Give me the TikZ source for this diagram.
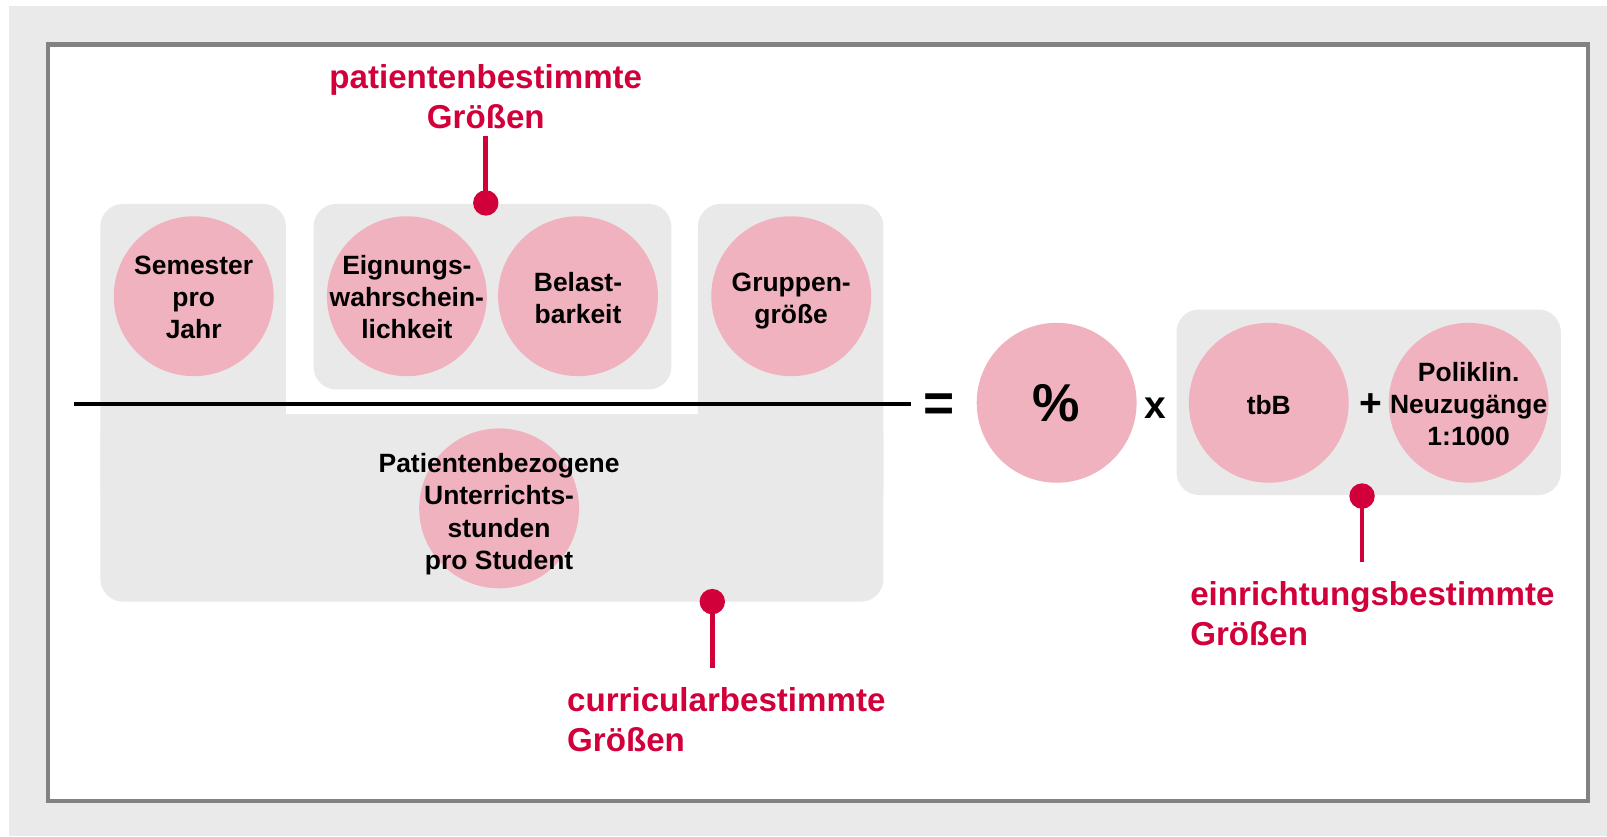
\documentclass[tikz,border=0pt]{standalone}
\usepackage{fontspec}
\setmainfont{Liberation Sans}
\definecolor{pagegray}{HTML}{EAEAEA}
\definecolor{framegray}{HTML}{828282}
\definecolor{panelgray}{HTML}{E9E9E9}
\definecolor{discpink}{HTML}{F0B2BE}
\definecolor{signalred}{HTML}{D2003A}
\begin{document}
\begin{tikzpicture}[x=0.5pt,y=-0.5pt,
  panel/.style={fill=panelgray, rounded corners=11pt},
  disc/.style={circle, fill=discpink, draw=none, minimum size=78pt, inner sep=0pt},
  disctext/.style={font=\bfseries\fontsize{12.9}{15.75}\selectfont, align=center, inner sep=0pt},
  redlabel/.style={font=\bfseries\fontsize{16.15}{19.4}\selectfont, text=signalred, align=left, inner sep=0pt},
  pindot/.style={circle, fill=signalred, draw=none, minimum size=12.4pt, inner sep=0pt},
  stem/.style={draw=signalred, line width=2.3pt},
  operator/.style={font=\bfseries\fontsize{#1}{#1}\selectfont, inner sep=0pt},
  fraction/.style={line width=2.15pt, black}
]
\useasboundingbox (0,0) rectangle (1568,816);

% page background and frame
\fill[pagegray] (9,6) rectangle (1568,816);
\draw[framegray, line width=2.2pt, fill=white] (47,43.5) rectangle (1549.5,781.5);

% grey panels behind the factors
\fill[panel] (98,199) rectangle (279,500);
\fill[panel] (681,199) rectangle (862,500);
\fill[panel] (98,404) rectangle (862,587);
\fill[panel] (306,199) rectangle (655,380);
\fill[panel] (1148,302) rectangle (1523,483);

% numerator
\node[disc] (sem) at (189,289) {};
\node[disctext] at ([yshift=-0.5pt]sem) {Semester\\pro\\Jahr};
\node[disc] (eign) at (397,289) {};
\node[disctext] at ([yshift=-0.5pt]eign) {Eignungs-\\wahrschein-\\lichkeit};
\node[disc] (bel) at (564,289) {};
\node[disctext] at ([yshift=-1pt]bel) {Belast-\\barkeit};
\node[disc] (grp) at (772,289) {};
\node[disctext] at ([yshift=-2.5pt]grp) {Gruppen-\\größe};

% fraction bar
\coordinate (barL) at (72,394);
\coordinate (barR) at (889,394);
\draw[fraction] (barL) -- (barR);

% denominator
\node[disc] (pus) at (487,496) {};
\node[disctext] at ([yshift=-2.8pt]pus) {Patientenbezogene\\Unterrichts-\\stunden\\pro Student};

% right-hand side
\node[operator=26] (eq) at (916.5,398) {=};
\node[disc] (pct) at (1031,393) {};
\node[operator=26] at (1031,393) {\%};
\node[operator=19] (times) at (1127,398.5) {x};
\node[disc] (tbb) at (1238,393) {};
\node[disctext] at ([yshift=-1.3pt]tbb) {tbB};
\node[operator=19] (plus) at (1338,395) {+};
\node[disc] (poli) at (1433,393) {};
\node[disctext] at ([yshift=-0.7pt]poli) {Poliklin.\\Neuzugänge\\1:1000};

% category pins
\node[pindot] (pinP) at (474,198) {};
\coordinate (stemP) at (474,133);
\draw[stem] (pinP.center) -- (stemP);
\node[redlabel, align=center, anchor=base] (labP) at (474,125) {patientenbestimmte\\Größen};

\node[pindot] (pinC) at (695,587) {};
\coordinate (stemC) at (695,652);
\draw[stem] (pinC.center) -- (stemC);
\node[redlabel, anchor=base west] (labC) at (553,733) {curricularbestimmte\\Größen};

\node[pindot] (pinE) at (1329,484) {};
\coordinate (stemE) at (1329,548);
\draw[stem] (pinE.center) -- (stemE);
\node[redlabel, anchor=base west] (labE) at (1161,630) {einrichtungsbestimmte\\Größen};
\end{tikzpicture}
\end{document}
